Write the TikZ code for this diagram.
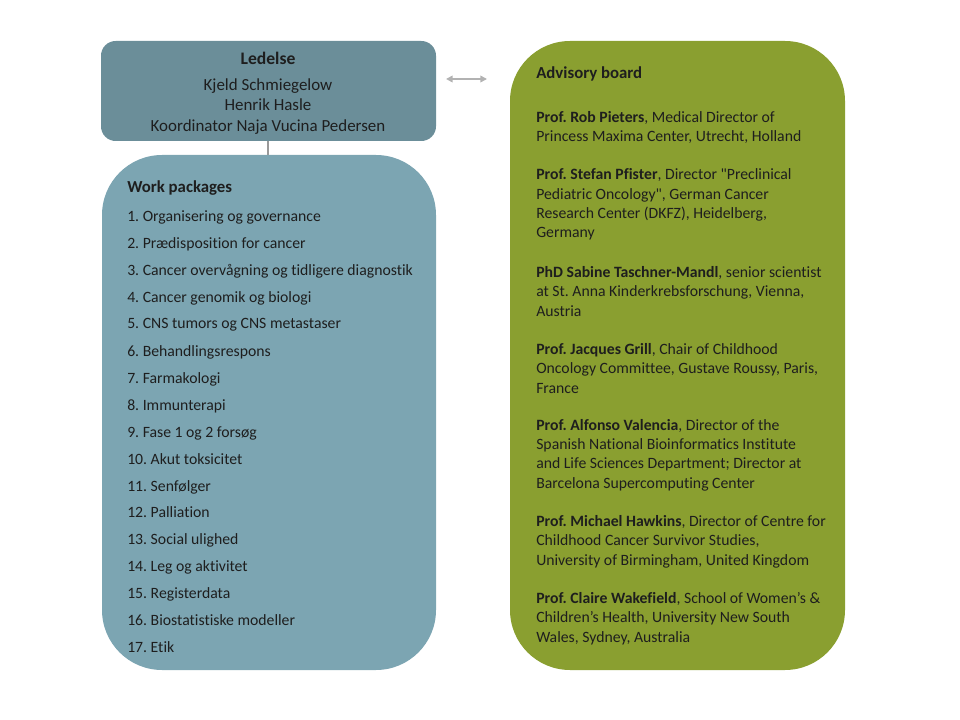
\documentclass[tikz,border=0pt]{standalone}
\usepackage{fontspec}
\setmainfont{Carlito}[Ligatures=CommonOff]
\usepackage{xcolor}
\usepackage{tikz}
\usetikzlibrary{arrows.meta}
\frenchspacing

\definecolor{ledgray}{HTML}{6B8E99}
\definecolor{wpblue}{HTML}{7CA5B2}
\definecolor{advgreen}{HTML}{8A9F30}
\definecolor{textdark}{HTML}{1E1E1E}

\tikzset{
    panel/.style={draw=none, rounded corners=#1},
    wpitem/.style={anchor=base west, inner sep=0pt, font=\fontsize{11.8}{13}\selectfont, text=textdark},
    wptitle/.style={anchor=base west, inner sep=0pt, font=\fontsize{12.6}{14}\selectfont\bfseries, text=textdark},
    advitem/.style={anchor=base west, inner sep=0pt, align=left, font=\fontsize{11.8}{14.5}\selectfont, text=textdark},
    headline/.style={anchor=base, inner sep=0pt, font=\fontsize{12.7}{15}\selectfont, text=textdark},
}

\begin{document}
\begin{tikzpicture}[x=0.75pt, y=-0.75pt]
    \useasboundingbox (0,0) rectangle (960,720);

    % Draw the three panels
    \fill[panel=11pt, ledgray] (101,41) rectangle (436,141);
    \fill[panel=45pt, wpblue] (102,155) rectangle (436,670);
    \fill[panel=45pt, advgreen] (510,41) rectangle (845,670);

    % Connector and double arrow
    \coordinate (ledbot) at (268,141);
    \coordinate (wptop) at (268,155);
    \draw[gray!80, line width=1.2pt] (ledbot) -- (wptop);
    \coordinate (arrl) at (446,79);
    \coordinate (arrr) at (487,79);
    \draw[{Triangle[width=5pt,length=5pt]}-{Triangle[width=5pt,length=5pt]}, gray!60, line width=1.2pt] (arrl) -- (arrr);

    % Ledelse
    \node[headline, font=\fontsize{13.2}{15}\selectfont\bfseries] (ledtitle) at (268,65) {Ledelse};
    \node[headline] (led1) at (268,91) {Kjeld Schmiegelow};
    \node[headline] (led2) at (268,111) {Henrik Hasle};
    \node[headline] (led3) at (268,132) {Koordinator Naja Vucina Pedersen};

    % Work packages
    \node[wptitle] (wphead) at (127,193) {Work packages};
    \node[wpitem] (wp1) at (127,222) {1. Organisering og governance};
    \node[wpitem] (wp2) at (127,249) {2. Prædisposition for cancer};
    \node[wpitem] (wp3) at (127,276) {3. Cancer overvågning og tidligere diagnostik};
    \node[wpitem] (wp4) at (127,302) {4. Cancer genomik og biologi};
    \node[wpitem] (wp5) at (127,329) {5. CNS tumors og CNS metastaser};
    \node[wpitem] (wp6) at (127,356) {6. Behandlingsrespons};
    \node[wpitem] (wp7) at (127,383) {7. Farmakologi};
    \node[wpitem] (wp8) at (127,410) {8. Immunterapi};
    \node[wpitem] (wp9) at (127,437) {9. Fase 1 og 2 forsøg};
    \node[wpitem] (wp10) at (127,464) {10. Akut toksicitet};
    \node[wpitem] (wp11) at (127,491) {11. Senfølger};
    \node[wpitem] (wp12) at (127,517) {12. Palliation};
    \node[wpitem] (wp13) at (127,544) {13. Social ulighed};
    \node[wpitem] (wp14) at (127,571) {14. Leg og aktivitet};
    \node[wpitem] (wp15) at (127,598) {15. Registerdata};
    \node[wpitem] (wp16) at (127,625) {16. Biostatistiske modeller};
    \node[wpitem] (wp17) at (127,652) {17. Etik};

    % Advisory board (each node is anchored on its last line)
    \node[wptitle] (advhead) at (536,79) {Advisory board};
    \node[advitem] (adv1) at (536,142) {\textbf{Prof. Rob Pieters}, Medical Director of\\Princess Maxima Center, Utrecht, Holland};
    \node[advitem] (adv2) at (536,238) {\textbf{Prof. Stefan Pfister}, Director \textquotedbl Preclinical\\Pediatric Oncology\textquotedbl, German Cancer\\Research Center (DKFZ), Heidelberg,\\Germany};
    \node[advitem] (adv3) at (536,316) {\textbf{PhD Sabine Taschner-Mandl}, senior scientist\\at St. Anna Kinderkrebsforschung, Vienna,\\Austria};
    \node[advitem] (adv4) at (536,393) {\textbf{Prof. Jacques Grill}, Chair of Childhood\\Oncology Committee, Gustave Roussy, Paris,\\France};
    \node[advitem] (adv5) at (536,488) {\textbf{Prof. Alfonso Valencia}, Director of the\\Spanish National Bioinformatics Institute\\and Life Sciences Department; Director at\\Barcelona Supercomputing Center};
    \node[advitem] (adv6) at (536,565) {\textbf{Prof. Michael Hawkins}, Director of Centre for\\Childhood Cancer Survivor Studies,\\University of Birmingham, United Kingdom};
    \node[advitem] (adv7) at (536,642) {\textbf{Prof. Claire Wakefield}, School of Women's \&\\Children's Health, University New South\\Wales, Sydney, Australia};
\end{tikzpicture}
\end{document}
